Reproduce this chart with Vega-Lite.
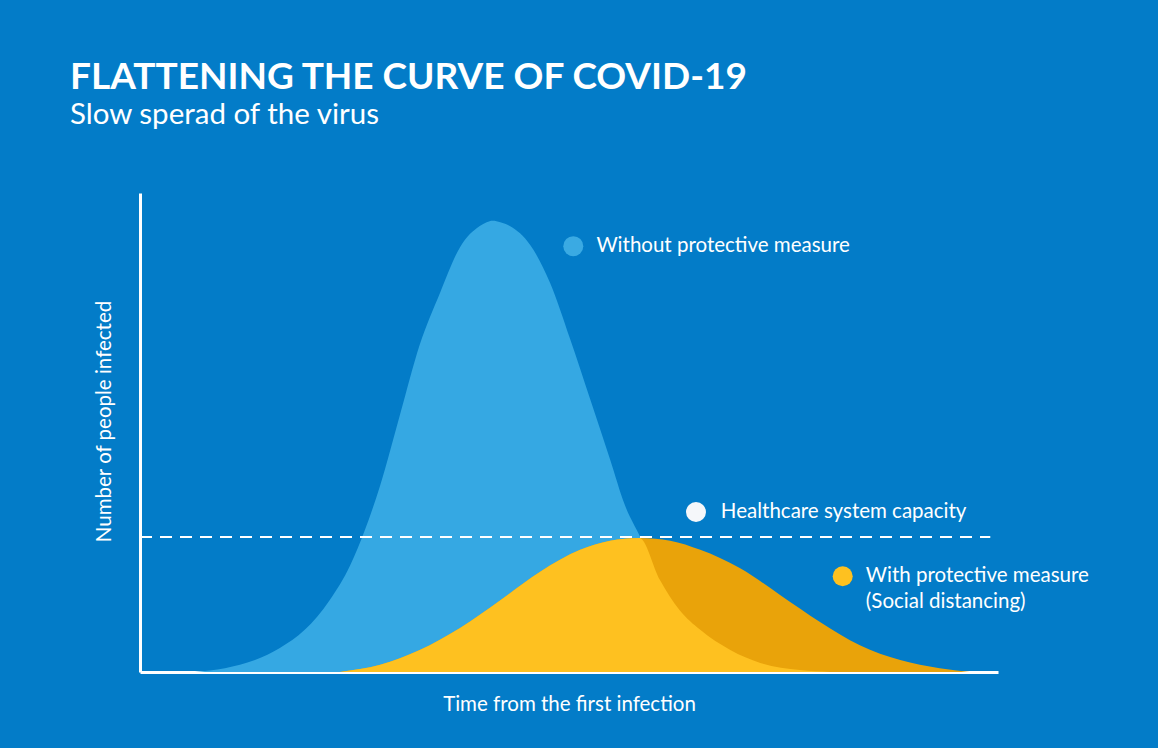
{
  "$schema": "https://vega.github.io/schema/vega-lite/v6.json",
  "autosize": "none",
  "width": 858,
  "height": 479,
  "padding": {"left": 140, "top": 193, "right": 160, "bottom": 76},
  "background": "#037CC8",
  "title": {
    "text": "FLATTENING THE CURVE OF COVID-19",
    "subtitle": "Slow sperad of the virus",
    "anchor": "start",
    "frame": "group",
    "dx": -70,
    "offset": 63,
    "font": "Lato",
    "fontSize": 37,
    "fontWeight": "bold",
    "color": "#FFFFFF",
    "subtitleFont": "Lato",
    "subtitleFontSize": 29.5,
    "subtitleFontWeight": "normal",
    "subtitleColor": "#FFFFFF",
    "subtitlePadding": 4
  },
  "config": {
    "view": {"stroke": null},
    "axis": {
      "domainColor": "#FFFFFF",
      "domainWidth": 3,
      "ticks": false,
      "labels": false,
      "grid": false,
      "titleColor": "#FFFFFF",
      "titleFont": "Lato",
      "titleFontSize": 20.5,
      "titleFontWeight": "normal"
    }
  },
  "datasets": {
    "curves": [
      {"series": "Without protective measure", "t": 6.4, "n": 0},
      {"series": "Without protective measure", "t": 9.9, "n": 0.8},
      {"series": "Without protective measure", "t": 13.4, "n": 2.5},
      {"series": "Without protective measure", "t": 16.3, "n": 5.0},
      {"series": "Without protective measure", "t": 19.2, "n": 8.8},
      {"series": "Without protective measure", "t": 22.1, "n": 15.0},
      {"series": "Without protective measure", "t": 24.5, "n": 22.3},
      {"series": "Without protective measure", "t": 26.2, "n": 29.6},
      {"series": "Without protective measure", "t": 28.0, "n": 39.0},
      {"series": "Without protective measure", "t": 30.3, "n": 53.7},
      {"series": "Without protective measure", "t": 32.6, "n": 68.3},
      {"series": "Without protective measure", "t": 35.0, "n": 79.3},
      {"series": "Without protective measure", "t": 37.3, "n": 88.7},
      {"series": "Without protective measure", "t": 39.6, "n": 93.1},
      {"series": "Without protective measure", "t": 40.4, "n": 93.9},
      {"series": "Without protective measure", "t": 41.1, "n": 94.2},
      {"series": "Without protective measure", "t": 42.0, "n": 93.9},
      {"series": "Without protective measure", "t": 43.1, "n": 93.1},
      {"series": "Without protective measure", "t": 45.5, "n": 89.1},
      {"series": "Without protective measure", "t": 47.8, "n": 81.2},
      {"series": "Without protective measure", "t": 50.1, "n": 69.7},
      {"series": "Without protective measure", "t": 52.5, "n": 56.8},
      {"series": "Without protective measure", "t": 54.8, "n": 44.3},
      {"series": "Without protective measure", "t": 56.5, "n": 34.9},
      {"series": "Without protective measure", "t": 58.3, "n": 28.2},
      {"series": "Without protective measure", "t": 60.6, "n": 19.2},
      {"series": "Without protective measure", "t": 62.9, "n": 12.9},
      {"series": "Without protective measure", "t": 65.3, "n": 8.8},
      {"series": "Without protective measure", "t": 68.8, "n": 4.6},
      {"series": "Without protective measure", "t": 72.3, "n": 1.9},
      {"series": "Without protective measure", "t": 76.9, "n": 0.4},
      {"series": "Without protective measure", "t": 80.4, "n": 0},
      {"series": "With protective measure", "t": 23.3, "n": 0},
      {"series": "With protective measure", "t": 28.0, "n": 1.5},
      {"series": "With protective measure", "t": 32.6, "n": 4.6},
      {"series": "With protective measure", "t": 37.3, "n": 9.2},
      {"series": "With protective measure", "t": 42.0, "n": 15.0},
      {"series": "With protective measure", "t": 46.6, "n": 20.9},
      {"series": "With protective measure", "t": 51.3, "n": 25.5},
      {"series": "With protective measure", "t": 54.8, "n": 27.4},
      {"series": "With protective measure", "t": 58.3, "n": 28.0},
      {"series": "With protective measure", "t": 61.8, "n": 27.4},
      {"series": "With protective measure", "t": 65.3, "n": 25.5},
      {"series": "With protective measure", "t": 69.9, "n": 21.7},
      {"series": "With protective measure", "t": 74.6, "n": 16.1},
      {"series": "With protective measure", "t": 79.3, "n": 10.4},
      {"series": "With protective measure", "t": 83.9, "n": 5.6},
      {"series": "With protective measure", "t": 88.6, "n": 2.5},
      {"series": "With protective measure", "t": 93.2, "n": 0.8},
      {"series": "With protective measure", "t": 96.7, "n": 0},
      {"series": "Overlap", "t": 23.3, "n": 0},
      {"series": "Overlap", "t": 28.0, "n": 1.5},
      {"series": "Overlap", "t": 32.6, "n": 4.6},
      {"series": "Overlap", "t": 37.3, "n": 9.2},
      {"series": "Overlap", "t": 42.0, "n": 15.0},
      {"series": "Overlap", "t": 46.6, "n": 20.9},
      {"series": "Overlap", "t": 51.3, "n": 25.5},
      {"series": "Overlap", "t": 54.8, "n": 27.4},
      {"series": "Overlap", "t": 58.2, "n": 28.0},
      {"series": "Overlap", "t": 60.6, "n": 19.2},
      {"series": "Overlap", "t": 62.9, "n": 12.9},
      {"series": "Overlap", "t": 65.3, "n": 8.8},
      {"series": "Overlap", "t": 68.8, "n": 4.6},
      {"series": "Overlap", "t": 72.3, "n": 1.9},
      {"series": "Overlap", "t": 76.9, "n": 0.4},
      {"series": "Overlap", "t": 80.4, "n": 0}
    ],
    "capacity": [{"t": 0, "t2": 99.1, "n": 28.2}],
    "markers": [
      {"marker": "Without protective measure", "t": 50.5, "n": 88.9},
      {"marker": "Healthcare system capacity", "t": 64.8, "n": 33.4},
      {"marker": "With protective measure", "t": 81.9, "n": 20.0}
    ],
    "labels": [
      {"label": "Without protective measure", "t": 53.2, "n": 88.9},
      {"label": "Healthcare system capacity", "t": 67.7, "n": 33.4},
      {"label": "With protective measure", "t": 84.6, "n": 20.0},
      {"label": "(Social distancing)", "t": 84.6, "n": 14.6}
    ]
  },
  "layer": [
    {
      "data": {"name": "curves"},
      "transform": [{"filter": "datum.series === 'Without protective measure'"}],
      "mark": {"type": "area", "interpolate": "monotone", "color": "#35A8E3"},
      "encoding": {
        "x": {"field": "t", "type": "quantitative", "scale": {"domain": [0, 100], "nice": false}, "axis": {"title": "Time from the first infection", "titlePadding": 22}},
        "y": {"field": "n", "type": "quantitative", "scale": {"domain": [0, 100], "nice": false}, "axis": {"title": "Number of people infected", "titlePadding": 26, "titleY": 228}}
      }
    },
    {
      "data": {"name": "curves"},
      "transform": [{"filter": "datum.series === 'With protective measure'"}],
      "mark": {"type": "area", "interpolate": "monotone", "color": "#E9A30A"},
      "encoding": {
        "x": {"field": "t", "type": "quantitative"},
        "y": {"field": "n", "type": "quantitative"}
      }
    },
    {
      "data": {"name": "curves"},
      "transform": [{"filter": "datum.series === 'Overlap'"}],
      "mark": {"type": "area", "interpolate": "monotone", "color": "#FEC120"},
      "encoding": {
        "x": {"field": "t", "type": "quantitative"},
        "y": {"field": "n", "type": "quantitative"}
      }
    },
    {
      "data": {"name": "capacity"},
      "mark": {"type": "rule", "color": "#FFFFFF", "strokeWidth": 2, "strokeDash": [12, 8]},
      "encoding": {
        "x": {"field": "t", "type": "quantitative"},
        "x2": {"field": "t2"},
        "y": {"field": "n", "type": "quantitative"}
      }
    },
    {
      "data": {"name": "markers"},
      "mark": {"type": "point", "shape": "circle", "filled": true, "opacity": 1, "size": 400},
      "encoding": {
        "x": {"field": "t", "type": "quantitative"},
        "y": {"field": "n", "type": "quantitative"},
        "color": {
          "field": "marker",
          "type": "nominal",
          "scale": {
            "domain": ["Without protective measure", "Healthcare system capacity", "With protective measure"],
            "range": ["#3AAAE3", "#F5F7FA", "#FEC120"]
          },
          "legend": null
        }
      }
    },
    {
      "data": {"name": "labels"},
      "mark": {"type": "text", "align": "left", "baseline": "middle", "font": "Lato", "fontSize": 20.5, "color": "#FFFFFF"},
      "encoding": {
        "x": {"field": "t", "type": "quantitative"},
        "y": {"field": "n", "type": "quantitative"},
        "text": {"field": "label"}
      }
    }
  ]
}
